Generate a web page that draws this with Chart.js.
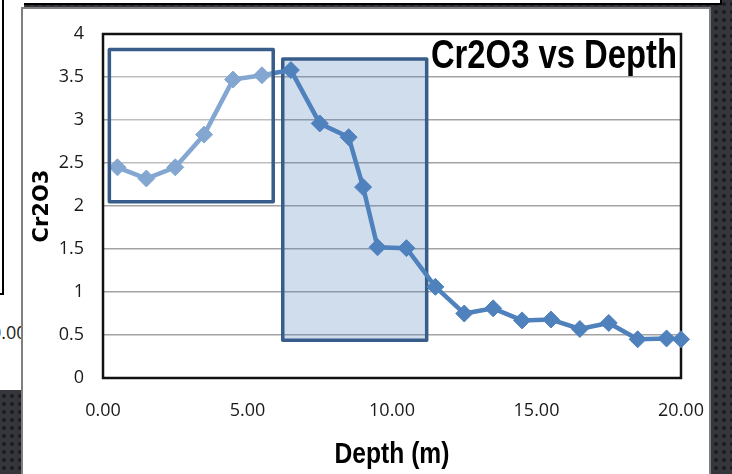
<!DOCTYPE html>
<html>
<head>
<meta charset="utf-8">
<title>Cr2O3 vs Depth</title>
<script src="https://cdn.jsdelivr.net/npm/chart.js@4.4.1/dist/chart.umd.min.js"></script>
<style>
  html, body { margin: 0; padding: 0; }
  body {
    width: 732px; height: 474px; overflow: hidden; position: relative;
    background-color: #35363b;
    background-image: radial-gradient(circle, #1d1e21 32%, transparent 40%);
    background-size: 8px 8px;
  }
  .sheet { position: absolute; background: #fff; }
  #topSheet { left: 9px; top: -4px; width: 709px; height: 5px; border: 2px solid #000; }
  #leftSheet { left: 0; top: 0; width: 24px; height: 390px; }
  #leftEdge { position: absolute; left: 2px; top: 0; width: 2px; height: 295px; background: #000; }
  #leftBase { position: absolute; left: 0; top: 293px; width: 4px; height: 2px; background: #000; }
  #leftTick { position: absolute; left: -9px; top: 320px; font: 18px "Open Sans"; color: #222; }
  #panel { left: 21px; top: 7px; width: 686px; height: 480px; border: 2px solid #7f7f7f; }
  #wrap { position: absolute; left: 0; top: 0; width: 732px; height: 474px; }
</style>
</head>
<body>
<div class="sheet" id="topSheet"></div>
<div class="sheet" id="leftSheet">
  <div id="leftEdge"></div>
  <div id="leftBase"></div>
  <span id="leftTick">0.00</span>
</div>
<div class="sheet" id="panel"></div>
<div id="wrap"><canvas id="myChart" width="732" height="474"></canvas></div>

<script>
// sample depths (m) and Cr2O3 readings
const depth = [0.5, 1.5, 2.5, 3.5, 4.5, 5.5, 6.5, 7.5, 8.5, 9.0, 9.5,
               10.5, 11.5, 12.5, 13.5, 14.5, 15.5, 16.5, 17.5, 18.5, 19.5, 20.0];
const cr2o3 = [2.45, 2.32, 2.45, 2.83, 3.47, 3.52, 3.58, 2.96, 2.80, 2.22, 1.52,
               1.51, 1.06, 0.75, 0.81, 0.67, 0.68, 0.57, 0.64, 0.45, 0.46, 0.45];

// axis ranges: min, max, step
const depthRange = [0, 20, 5];
const cr2o3Range = [0, 4, 0.5];

// highlighted zones, in data units (depth from/to, Cr2O3 from/to)
const upperZone = { x0: 0.22, x1: 5.89, y0: 2.05, y1: 3.82 };
const dropZone  = { x0: 6.22, x1: 11.2, y0: 0.44, y1: 3.71 };

const points = depth.map((d, i) => ({ x: d, y: cr2o3[i] }));

function zoneBox(chart, z) {
  const xs = chart.scales.x, ys = chart.scales.y;
  const l = xs.getPixelForValue(z.x0), r = xs.getPixelForValue(z.x1);
  const t = ys.getPixelForValue(z.y1), b = ys.getPixelForValue(z.y0);
  return [l, t, r - l, b - t];
}

function strokeZone(ctx, box) {
  ctx.strokeStyle = '#385d8a';
  ctx.lineWidth = 3.5;
  ctx.lineJoin = 'round';
  ctx.strokeRect(box[0], box[1], box[2], box[3]);
}

// narrow bold text: squeeze a regular bold face horizontally
function narrowText(ctx, text, x, y, size, align, squeeze) {
  ctx.save();
  ctx.font = 'bold ' + size + 'px "Liberation Sans"';
  ctx.fillStyle = '#000';
  ctx.textAlign = align;
  ctx.textBaseline = 'alphabetic';
  ctx.translate(x, y);
  ctx.scale(squeeze, 1);
  ctx.fillText(text, 0, 0);
  ctx.restore();
}

const zones = {
  id: 'zones',
  beforeDatasetsDraw(chart) {
    const ctx = chart.ctx, a = chart.chartArea;
    ctx.save();
    ctx.strokeStyle = '#111';
    ctx.lineWidth = 2.5;
    ctx.strokeRect(a.left, a.top, a.right - a.left, a.bottom - a.top);
    // shaded zone goes under the line
    const box = zoneBox(chart, dropZone);
    ctx.fillStyle = 'rgba(79, 129, 189, 0.27)';
    ctx.fillRect(box[0], box[1], box[2], box[3]);
    strokeZone(ctx, box);
    ctx.restore();
  },
  afterDatasetsDraw(chart) {
    const ctx = chart.ctx;
    ctx.save();
    // this one sits on top and washes the line out a little
    const box = zoneBox(chart, upperZone);
    ctx.fillStyle = 'rgba(255, 255, 255, 0.3)';
    ctx.fillRect(box[0], box[1], box[2], box[3]);
    strokeZone(ctx, box);
    ctx.restore();
  },
  afterDraw(chart) {
    const ctx = chart.ctx, a = chart.chartArea;
    narrowText(ctx, 'Cr2O3 vs Depth', a.right - 4, a.top + 34, 41, 'right', 0.8);
    narrowText(ctx, 'Depth (m)', (a.left + a.right) / 2, a.bottom + 85, 30, 'center', 0.82);
  }
};

var ctx = document.getElementById('myChart').getContext('2d');

var myChart = new Chart(ctx, {
  type: 'scatter',
  data: {
    datasets: [{
      label: 'Cr2O3',
      data: points,
      showLine: true,
      tension: 0,
      clip: false,
      borderColor: '#4f81bd',
      backgroundColor: '#4f81bd',
      borderWidth: 4.5,
      pointStyle: 'rectRot',
      pointRadius: 8.5,
      pointHoverRadius: 8.5,
      pointBorderWidth: 1,
      pointBackgroundColor: '#4f81bd',
      pointBorderColor: '#4f81bd'
    }]
  },
  options: {
    responsive: false,
    animation: false,
    devicePixelRatio: 1,
    layout: { padding: { left: 0, top: 34, right: 51, bottom: 0 } },
    plugins: {
      legend: { display: false },
      tooltip: { enabled: false }
    },
    scales: {
      x: {
        type: 'linear',
        min: depthRange[0],
        max: depthRange[1],
        afterFit: s => { s.height = 96; },
        grid: { display: false, drawTicks: false, tickLength: 0 },
        border: { display: false },
        ticks: {
          stepSize: depthRange[2],
          padding: 22,
          color: '#1a1a1a',
          font: { family: 'Open Sans', size: 18 },
          callback: v => v.toFixed(2)
        }
      },
      y: {
        min: cr2o3Range[0],
        max: cr2o3Range[1],
        afterFit: s => { s.width = 103; },
        grid: { color: '#a3a3a3', lineWidth: 1.4, drawTicks: false, tickLength: 0 },
        border: { display: false },
        ticks: {
          stepSize: cr2o3Range[2],
          padding: 19,
          color: '#1a1a1a',
          font: { family: 'Open Sans', size: 18 },
          callback: v => String(v)
        },
        title: {
          display: true,
          text: 'Cr2O3',
          color: '#000',
          font: { family: 'DejaVu Sans', size: 21, weight: 'bold', lineHeight: 1 },
          padding: { top: 32, bottom: 0 }
        }
      }
    }
  },
  plugins: [zones]
});
</script>
</body>
</html>
